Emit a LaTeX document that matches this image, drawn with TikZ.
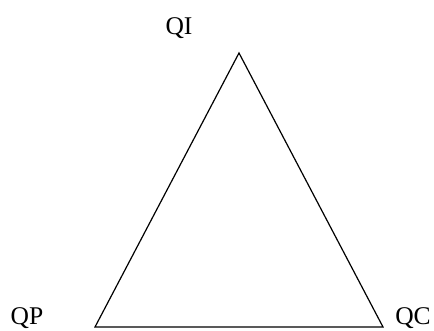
\documentclass[tikz,border=0pt]{standalone}
\usepackage{fontspec}
\setmainfont{Liberation Serif}
\begin{document}
\begin{tikzpicture}[x=1pt,y=1pt,
  lbl/.style={anchor=base,inner sep=0pt,font=\fontsize{25.5}{30}\selectfont},
  edge/.style={draw=black,line width=1.2pt,line join=miter}]
\useasboundingbox (0,0) rectangle (434,331);
\coordinate (I) at (239,278);
\coordinate (P) at (95,4);
\coordinate (C) at (383,4);
\draw[edge] (I) -- (P) -- (C) -- cycle;
\node[lbl] (qi) at (179,296) {QI};
\node[lbl] (qp) at (27,6) {QP};
\node[lbl] (qc) at (413,6) {QC};
\end{tikzpicture}
\end{document}
